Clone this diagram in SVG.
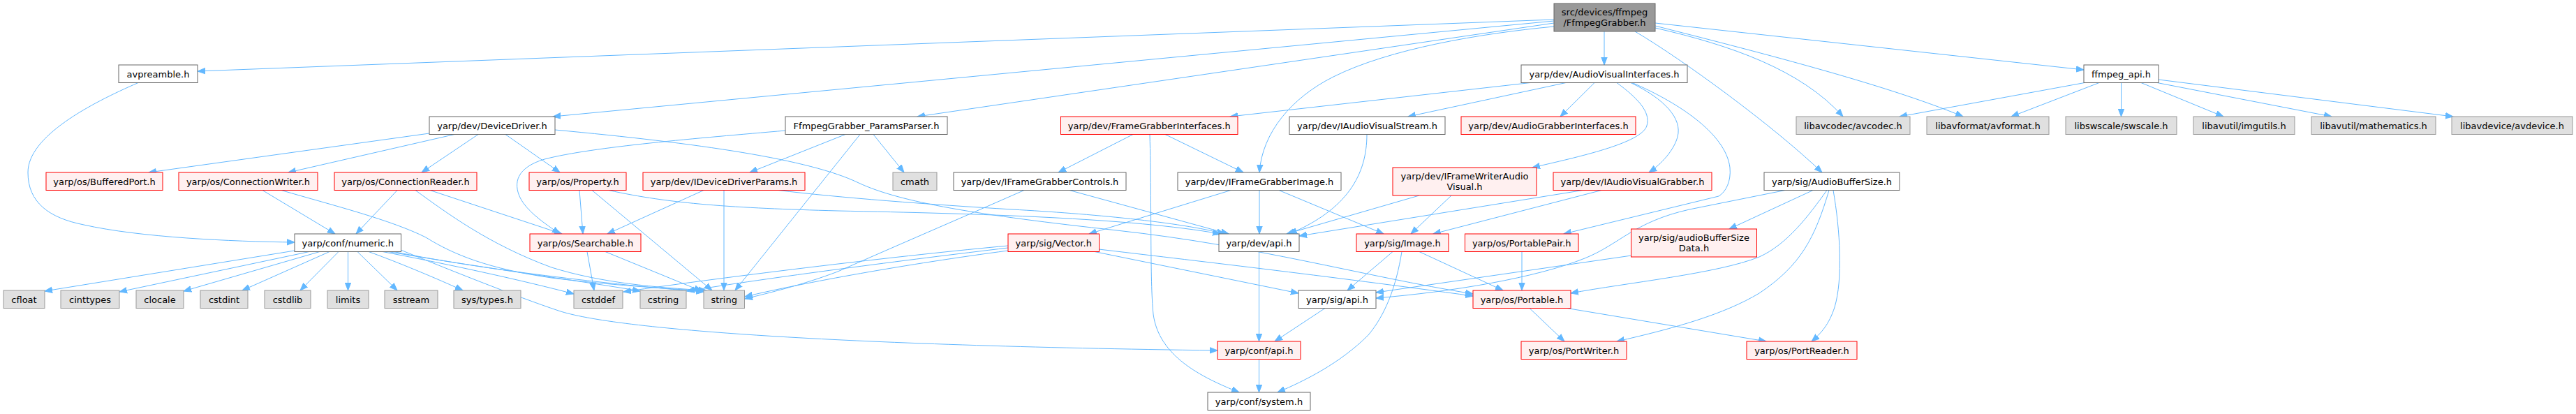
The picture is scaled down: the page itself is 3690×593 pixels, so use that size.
<svg xmlns="http://www.w3.org/2000/svg" width="3690" height="593" viewBox="0 0 3690 593">
<style>
rect{stroke-width:1}
.w rect{fill:#ffffff;stroke:#666666}
.r rect{fill:#fff0f0;stroke:#ff0000}
.g rect{fill:#e0e0e0;stroke:#999999}
.k rect{fill:#999999;stroke:#666666}
text{font-family:"DejaVu Sans",sans-serif;font-size:13px;text-anchor:middle;fill:#000000}
.e path{fill:none;stroke:#63b8ff;stroke-width:1;marker-end:url(#a)}
</style>
<defs>
<marker id="a" markerUnits="userSpaceOnUse" markerWidth="12" markerHeight="10" refX="11" refY="5" orient="auto" viewBox="0 0 12 10">
<path d="M0,0.8 L11,5 L0,9.2 z" fill="#63b8ff" stroke="#63b8ff" stroke-width="1"/>
</marker>
</defs>
<rect width="3690" height="593" fill="#ffffff"/>
<g id="edges" class="e">
<path d="M2226,28 L283,102"/>
<path d="M2226,30 L792,167"/>
<path d="M2226,33 L1314,167"/>
<path d="M2298,45 L2298,93"/>
<path d="M2226,38 C2120,48 1990,70 1910,110 C1850,140 1808,190 1804,247"/>
<path d="M2342,45 C2410,85 2540,180 2610,247"/>
<path d="M2371,40 C2480,65 2580,100 2640,167"/>
<path d="M2371,37 C2500,70 2700,120 2812,167"/>
<path d="M2371,33 L2985,100"/>
<path d="M2192,118.5 L1762,167"/>
<path d="M2243,118.5 L2017,167"/>
<path d="M2284,118.5 L2235,167"/>
<path d="M2316,118.5 C2345,140 2365,160 2359,180 C2352,205 2260,225 2195,240"/>
<path d="M2336,118.5 C2385,142 2410,170 2403,196 C2398,215 2380,235 2362,247"/>
<path d="M2338,118.5 C2400,145 2472,190 2478,240 C2480,260 2472,275 2462,281 L2240,335"/>
<path d="M2986,118.5 L2721,167"/>
<path d="M3007,118.5 L2881,167"/>
<path d="M3038.5,118.5 L3038.5,167"/>
<path d="M3067,118.5 L3185,167"/>
<path d="M3090,118.5 L3340,167"/>
<path d="M3092,114 L3514,167"/>
<path d="M198,118.5 C130,148 40,195 40,247 C40,290 70,312 120,322 C200,340 330,346 422,347"/>
<path d="M615,191 L213,247"/>
<path d="M651,192.5 L413,247"/>
<path d="M685,192.5 L604,247"/>
<path d="M724,192.5 L802,247"/>
<path d="M795,186 C1000,205 1160,228 1230,262 C1290,290 1400,308 1600,330 C1800,352 1950,395 2110,421"/>
<path d="M1211,192.5 L1074,247"/>
<path d="M1125.5,187 C1000,198 850,210 780,228 C740,240 735,262 745,283 C755,303 780,320 802,335"/>
<path d="M1232,192.5 L1053,416"/>
<path d="M1251,192.5 L1295,247"/>
<path d="M1623,192.5 L1516,247"/>
<path d="M1669,192.5 L1781,247"/>
<path d="M1647,192.5 C1650,300 1647,400 1652,450 C1660,510 1720,540 1775,562"/>
<path d="M1958,192.5 C1958,250 1930,300 1847,335"/>
<path d="M376,272.5 L480,335"/>
<path d="M403,272.5 C480,295 560,315 610,340 C650,365 700,385 790,398 C870,408 950,413 1010,417"/>
<path d="M569,272.5 L510,335"/>
<path d="M616,272.5 L805,335"/>
<path d="M595,272.5 C640,305 700,350 790,383 C860,405 940,412 1012,416"/>
<path d="M830,272.5 L835,335"/>
<path d="M848,272.5 L1020,416"/>
<path d="M872,272.5 C960,292 1050,298 1200,302 C1400,306 1620,312 1748,335"/>
<path d="M1008,272.5 L870,335"/>
<path d="M1037,272.5 L1037,416"/>
<path d="M1115,272.5 C1200,283 1333,293 1450,300 C1560,306 1690,318 1754,335"/>
<path d="M1532,272.5 L1760,335"/>
<path d="M1467,272.5 C1400,302 1300,345 1200,389 C1150,408 1100,420 1067,428"/>
<path d="M1804,272.5 L1804,335"/>
<path d="M1763,272.5 L1560,335"/>
<path d="M1832,272.5 L1982,335"/>
<path d="M2033,280 L1843,335"/>
<path d="M2079,280 L2021,335"/>
<path d="M2267,272.5 L1861,338"/>
<path d="M2294,272.5 L2053,335"/>
<path d="M2557,272.5 L2420,300 C2340,318 2320,350 2270,370 C2200,398 2080,418 1971,427"/>
<path d="M2597,272.5 L2477,328"/>
<path d="M2617,272.5 C2590,310 2560,350 2520,368 C2460,392 2330,405 2250,420"/>
<path d="M2620,272.5 C2600,340 2580,380 2520,420 C2470,450 2400,470 2316,489"/>
<path d="M2626,272.5 C2636,330 2640,400 2628,440 C2620,465 2608,478 2595,489"/>
<path d="M422,359 L64,417"/>
<path d="M443,360.5 L171,418"/>
<path d="M458,360.5 L263,417"/>
<path d="M472,360.5 L347,416"/>
<path d="M485,360.5 L430,416"/>
<path d="M498.5,360.5 L498.5,416"/>
<path d="M512,360.5 L569,416"/>
<path d="M528,360.5 C560,372 610,392 663,416"/>
<path d="M548,360.5 C650,380 750,402 822,421"/>
<path d="M556,360.5 C700,385 850,405 917,417"/>
<path d="M564,360.5 C700,388 900,410 1008,418"/>
<path d="M574,358 C640,385 740,425 800,445 C880,472 1200,495 1744,502"/>
<path d="M841,360.5 L851,416"/>
<path d="M867,360.5 L1005,417"/>
<path d="M1444,352 C1300,365 1050,395 893,418"/>
<path d="M1444,355 C1300,372 1100,398 984,417"/>
<path d="M1444,359 C1300,378 1150,405 1067,425"/>
<path d="M1568,360.5 L1860,420"/>
<path d="M1574,357 C1700,372 1900,395 2110,424"/>
<path d="M1803.5,360.5 L1803.5,489"/>
<path d="M1995,360.5 L1930,416"/>
<path d="M2008,360.5 C2000,410 1985,450 1960,480 C1920,520 1870,545 1830,562"/>
<path d="M2033,360.5 L2153,416"/>
<path d="M2180,360.5 L2180,416"/>
<path d="M2337,366 L1971,419"/>
<path d="M1898,441.5 L1826,489"/>
<path d="M2191,441.5 L2241,489"/>
<path d="M2245,441.5 L2530,489"/>
<path d="M1803.5,514.5 L1803.5,562"/>
</g>
<g id="n_root" class="k"><rect x="2226" y="5" width="145" height="40"/><text x="2298.5" y="21.5">src/devices/ffmpeg</text><text x="2298.5" y="37">/FfmpegGrabber.h</text></g>
<g id="n_avpreamble" class="w"><rect x="170" y="93" width="113" height="25.5"/><text x="226.5" y="110.5">avpreamble.h</text></g>
<g id="n_avi" class="w"><rect x="2179" y="93" width="238" height="25.5"/><text x="2298" y="110.5">yarp/dev/AudioVisualInterfaces.h</text></g>
<g id="n_ffmpeg_api" class="w"><rect x="2985" y="93" width="107" height="25.5"/><text x="3038.5" y="110.5">ffmpeg_api.h</text></g>
<g id="n_devicedriver" class="w"><rect x="615" y="167" width="180" height="25.5"/><text x="705" y="184.5">yarp/dev/DeviceDriver.h</text></g>
<g id="n_paramsparser" class="w"><rect x="1125" y="167" width="232" height="25.5"/><text x="1241" y="184.5">FfmpegGrabber_ParamsParser.h</text></g>
<g id="n_fgi" class="r"><rect x="1519.5" y="167" width="253.5" height="25.5"/><text x="1646.25" y="184.5">yarp/dev/FrameGrabberInterfaces.h</text></g>
<g id="n_iavs" class="w"><rect x="1847" y="167" width="223" height="25.5"/><text x="1958.5" y="184.5">yarp/dev/IAudioVisualStream.h</text></g>
<g id="n_agi" class="r"><rect x="2093" y="167" width="250" height="25.5"/><text x="2218" y="184.5">yarp/dev/AudioGrabberInterfaces.h</text></g>
<g id="n_avcodec" class="g"><rect x="2573" y="167" width="163" height="25.5"/><text x="2654.5" y="184.5">libavcodec/avcodec.h</text></g>
<g id="n_avformat" class="g"><rect x="2760" y="167" width="175" height="25.5"/><text x="2847.5" y="184.5">libavformat/avformat.h</text></g>
<g id="n_swscale" class="g"><rect x="2959" y="167" width="159" height="25.5"/><text x="3038.5" y="184.5">libswscale/swscale.h</text></g>
<g id="n_imgutils" class="g"><rect x="3142" y="167" width="145" height="25.5"/><text x="3214.5" y="184.5">libavutil/imgutils.h</text></g>
<g id="n_mathematics" class="g"><rect x="3311" y="167" width="178" height="25.5"/><text x="3400" y="184.5">libavutil/mathematics.h</text></g>
<g id="n_avdevice" class="g"><rect x="3512" y="167" width="173" height="25.5"/><text x="3598.5" y="184.5">libavdevice/avdevice.h</text></g>
<g id="n_bufferedport" class="r"><rect x="66" y="247" width="167" height="25.5"/><text x="149.5" y="264.5">yarp/os/BufferedPort.h</text></g>
<g id="n_connwriter" class="r"><rect x="256" y="247" width="199" height="25.5"/><text x="355.5" y="264.5">yarp/os/ConnectionWriter.h</text></g>
<g id="n_connreader" class="r"><rect x="479" y="247" width="204" height="25.5"/><text x="581" y="264.5">yarp/os/ConnectionReader.h</text></g>
<g id="n_property" class="r"><rect x="758" y="247" width="139" height="25.5"/><text x="827.5" y="264.5">yarp/os/Property.h</text></g>
<g id="n_iddp" class="r"><rect x="921" y="247" width="232" height="25.5"/><text x="1037" y="264.5">yarp/dev/IDeviceDriverParams.h</text></g>
<g id="n_cmath" class="g"><rect x="1279" y="247" width="63" height="25.5"/><text x="1310.5" y="264.5">cmath</text></g>
<g id="n_ifgc" class="w"><rect x="1366" y="247" width="247" height="25.5"/><text x="1489.5" y="264.5">yarp/dev/IFrameGrabberControls.h</text></g>
<g id="n_ifgi" class="w"><rect x="1687" y="247" width="234" height="25.5"/><text x="1804" y="264.5">yarp/dev/IFrameGrabberImage.h</text></g>
<g id="n_ifwav" class="r"><rect x="1995" y="240" width="206" height="40"/><text x="2098" y="256.5">yarp/dev/IFrameWriterAudio</text><text x="2098" y="272">Visual.h</text></g>
<g id="n_iavg" class="r"><rect x="2225" y="247" width="227" height="25.5"/><text x="2338.5" y="264.5">yarp/dev/IAudioVisualGrabber.h</text></g>
<g id="n_abs" class="w"><rect x="2527" y="247" width="194" height="25.5"/><text x="2624" y="264.5">yarp/sig/AudioBufferSize.h</text></g>
<g id="n_numeric" class="w"><rect x="422" y="335" width="152.5" height="25.5"/><text x="498.25" y="352.5">yarp/conf/numeric.h</text></g>
<g id="n_searchable" class="r"><rect x="759" y="335" width="159" height="25.5"/><text x="838.5" y="352.5">yarp/os/Searchable.h</text></g>
<g id="n_vector" class="r"><rect x="1444" y="335" width="130.5" height="25.5"/><text x="1509.25" y="352.5">yarp/sig/Vector.h</text></g>
<g id="n_devapi" class="w"><rect x="1746" y="335" width="115" height="25.5"/><text x="1803.5" y="352.5">yarp/dev/api.h</text></g>
<g id="n_image" class="r"><rect x="1943" y="335" width="132" height="25.5"/><text x="2009" y="352.5">yarp/sig/Image.h</text></g>
<g id="n_portablepair" class="r"><rect x="2098.5" y="335" width="162.5" height="25.5"/><text x="2179.75" y="352.5">yarp/os/PortablePair.h</text></g>
<g id="n_absdata" class="r"><rect x="2336.5" y="328" width="180" height="40"/><text x="2426.5" y="344.5">yarp/sig/audioBufferSize</text><text x="2426.5" y="360">Data.h</text></g>
<g id="n_cfloat" class="g"><rect x="5" y="416" width="59" height="25.5"/><text x="34.5" y="433.5">cfloat</text></g>
<g id="n_cinttypes" class="g"><rect x="87" y="416" width="84" height="25.5"/><text x="129" y="433.5">cinttypes</text></g>
<g id="n_clocale" class="g"><rect x="195" y="416" width="68" height="25.5"/><text x="229" y="433.5">clocale</text></g>
<g id="n_cstdint" class="g"><rect x="287" y="416" width="68" height="25.5"/><text x="321" y="433.5">cstdint</text></g>
<g id="n_cstdlib" class="g"><rect x="379" y="416" width="66" height="25.5"/><text x="412" y="433.5">cstdlib</text></g>
<g id="n_limits" class="g"><rect x="469" y="416" width="59" height="25.5"/><text x="498.5" y="433.5">limits</text></g>
<g id="n_sstream" class="g"><rect x="551" y="416" width="76" height="25.5"/><text x="589" y="433.5">sstream</text></g>
<g id="n_systypes" class="g"><rect x="650" y="416" width="96" height="25.5"/><text x="698" y="433.5">sys/types.h</text></g>
<g id="n_cstddef" class="g"><rect x="822" y="416" width="70" height="25.5"/><text x="857" y="433.5">cstddef</text></g>
<g id="n_cstring" class="g"><rect x="917" y="416" width="66" height="25.5"/><text x="950" y="433.5">cstring</text></g>
<g id="n_string" class="g"><rect x="1008" y="416" width="58.5" height="25.5"/><text x="1037.25" y="433.5">string</text></g>
<g id="n_sigapi" class="w"><rect x="1860" y="416" width="111" height="25.5"/><text x="1915.5" y="433.5">yarp/sig/api.h</text></g>
<g id="n_portable" class="r"><rect x="2110" y="416" width="140" height="25.5"/><text x="2180" y="433.5">yarp/os/Portable.h</text></g>
<g id="n_confapi" class="r"><rect x="1744" y="489" width="119" height="25.5"/><text x="1803.5" y="506.5">yarp/conf/api.h</text></g>
<g id="n_portwriter" class="r"><rect x="2179" y="489" width="151" height="25.5"/><text x="2254.5" y="506.5">yarp/os/PortWriter.h</text></g>
<g id="n_portreader" class="r"><rect x="2502" y="489" width="158" height="25.5"/><text x="2581" y="506.5">yarp/os/PortReader.h</text></g>
<g id="n_system" class="w"><rect x="1730" y="562" width="147" height="25.5"/><text x="1803.5" y="579.5">yarp/conf/system.h</text></g>
</svg>
